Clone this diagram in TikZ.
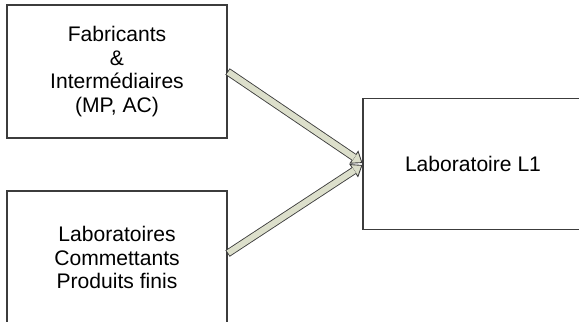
\documentclass[tikz,border=0pt]{standalone}
\usepackage{fontspec}
\setmainfont{Liberation Sans}
\usetikzlibrary{arrows.meta}

\definecolor{arrowfill}{HTML}{DCDFCB}
\definecolor{arrowedge}{HTML}{3C3C3C}

\begin{document}
\begin{tikzpicture}[
    box/.style={draw=arrowedge, line width=0.6pt, rectangle, minimum width=4.4cm, minimum height=2.66cm,
                align=center, font=\fontsize{12}{13.6}\selectfont},
    flow/.style={draw=arrowedge, line width=4.4pt,
                 -{Triangle[length=6pt, width=9pt, fill=arrowfill, line width=0.5pt]},
                 postaction={draw=arrowfill, line width=3.4pt, -, shorten >=5.6pt, shorten <=0.5pt}}
  ]

    \clip (0,0) rectangle (11.58,-6.44);

    \node[box] (makers) at (2.34,-1.43) {Fabricants\\\&\\Interm\'ediaires\\(MP, AC)};
    \node[box] (clients) at (2.34,-5.15) {Laboratoires\\Commettants\\Produits finis};
    \node[box, minimum height=2.63cm] (lab) at (9.46,-3.28) {Laboratoire L1};

    \draw[flow] (makers.east) -- ([yshift=0.02cm]lab.west);
    \draw[flow] ([yshift=0.08cm]clients.east) -- ([yshift=-0.02cm]lab.west);
\end{tikzpicture}
\end{document}
